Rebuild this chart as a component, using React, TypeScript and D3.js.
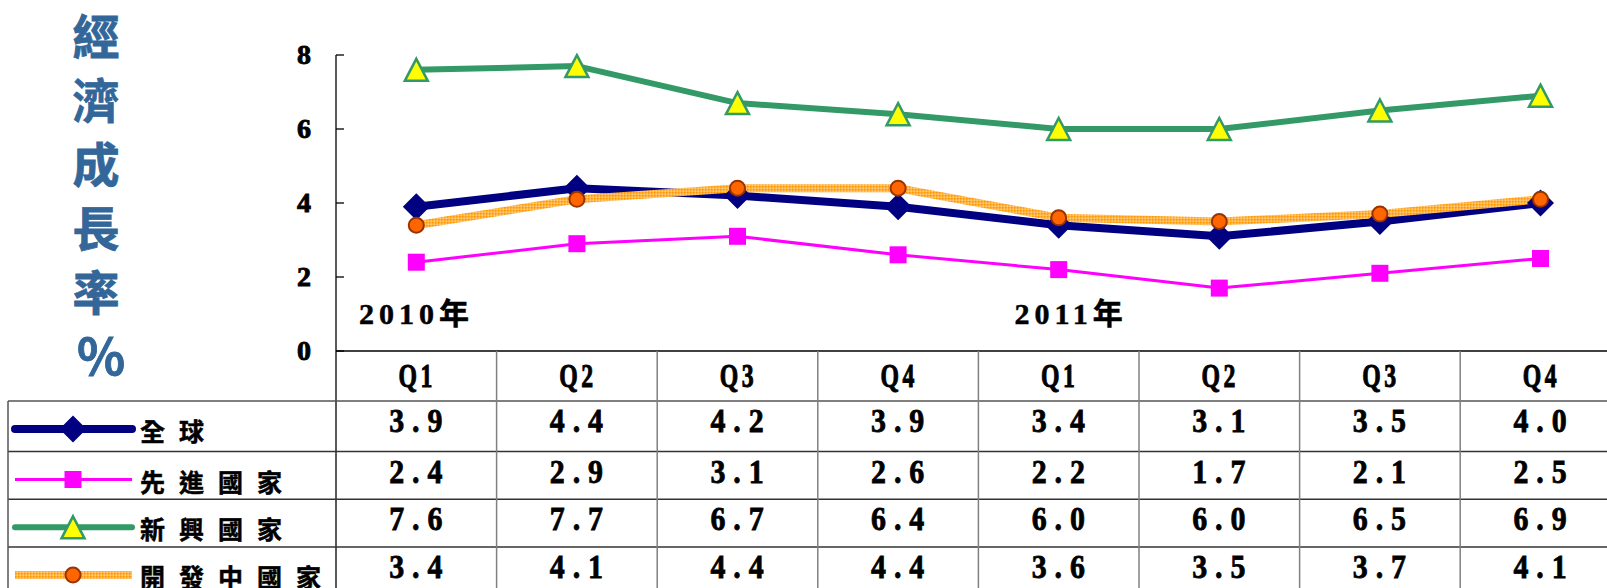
import React from 'react'
import * as d3 from 'd3'

// quarters shown on the x axis / table header
const quarters = ['Q1', 'Q2', 'Q3', 'Q4', 'Q1', 'Q2', 'Q3', 'Q4']
const yearLabels = [
  { label: '2010年', index: 0 },
  { label: '2011年', index: 4 },
]
const yTicks = [0, 2, 4, 6, 8]
const yTitle = ['經', '濟', '成', '長', '率', '%']

// series values (%)
const globalVals = [3.9, 4.4, 4.2, 3.9, 3.4, 3.1, 3.5, 4.0]
const advancedVals = [2.4, 2.9, 3.1, 2.6, 2.2, 1.7, 2.1, 2.5]
const emergingVals = [7.6, 7.7, 6.7, 6.4, 6.0, 6.0, 6.5, 6.9]
const developingVals = [3.4, 4.1, 4.4, 4.4, 3.6, 3.5, 3.7, 4.1]

const seriesNames = ['全球', '先進國家', '新興國家', '開發中國家']

type Series = {
  name: string
  values: number[]
  stroke: string
  width: number
  marker: 'diamond' | 'square' | 'triangle' | 'circle'
  cap: 'round' | 'butt'
}

const series: Series[] = [
  { name: seriesNames[0], values: globalVals, stroke: '#000080', width: 8, marker: 'diamond', cap: 'round' },
  { name: seriesNames[1], values: advancedVals, stroke: '#FF00FF', width: 3, marker: 'square', cap: 'butt' },
  { name: seriesNames[2], values: emergingVals, stroke: '#339966', width: 6, marker: 'triangle', cap: 'round' },
  { name: seriesNames[3], values: developingVals, stroke: 'url(#orangeDots)', width: 8, marker: 'circle', cap: 'butt' },
]

const W = 1607
const H = 588
const axisX = 336
const colW = 160.6
const rowTops = [401, 451.5, 499.3, 547]

const Marker: React.FC<{ type: Series['marker']; x: number; y: number }> = ({ type, x, y }) => {
  switch (type) {
    case 'diamond':
      return <path d={`M${x},${y - 13.5}L${x + 13.5},${y}L${x},${y + 13.5}L${x - 13.5},${y}Z`} fill="#000080" />
    case 'square':
      return <rect x={x - 8.5} y={y - 8.5} width={17} height={17} fill="#FF00FF" />
    case 'triangle':
      return (
        <path
          d={`M${x},${y - 11}L${x + 11.5},${y + 11}L${x - 11.5},${y + 11}Z`}
          fill="#FFFF00"
          stroke="#339966"
          strokeWidth={2.5}
          strokeLinejoin="miter"
        />
      )
    case 'circle':
      return <circle cx={x} cy={y} r={7.5} fill="#FF6600" stroke="#993300" strokeWidth={2} />
  }
}

export default function App() {
  const xScale = d3
    .scaleBand<number>()
    .domain(d3.range(quarters.length))
    .range([axisX, axisX + colW * quarters.length])
    .paddingInner(0)
    .paddingOuter(0)

  const cx = (i: number) => (xScale(i) as number) + xScale.bandwidth() / 2

  const yScale = d3.scaleLinear().domain([0, 8]).range([351, 55])

  const line = d3
    .line<number>()
    .x((_, i) => cx(i))
    .y((d) => yScale(d))

  const serifBold = { fontFamily: '"Liberation Serif", "Noto Sans CJK TC", serif', fontWeight: 700 }
  const cjkBold = { fontFamily: '"Noto Sans CJK TC", sans-serif', fontWeight: 700 }

  return (
    <svg
      width={W}
      height={H}
      style={{ position: 'absolute', left: 0, top: 0, background: '#fff' }}
    >
      <defs>
        <pattern id="orangeDots" patternUnits="userSpaceOnUse" width={3} height={3}>
          <rect width={3} height={3} fill="#FFB23F" />
          <rect width={1.5} height={1.5} fill="#FF9900" />
          <rect x={1.5} y={1.5} width={1.5} height={1.5} fill="#FFCC80" />
        </pattern>
      </defs>
      <rect width={W} height={H} fill="#fff" />

      {/* y title */}
      {yTitle.map((ch, i) => (
        <text
          key={i}
          x={ch === '%' ? 101 : 96}
          y={33 + i * 64}
          dominantBaseline="central"
          textAnchor="middle"
          fill="#336699"
          stroke="#336699"
          strokeWidth={0.8}
          style={{ ...cjkBold, fontSize: ch === '%' ? 50 : 47 }}
        >
          {ch}
        </text>
      ))}

      {/* y axis */}
      <line x1={axisX} x2={axisX} y1={yScale(8)} y2={H} stroke="#000" strokeWidth={1.3} />
      {yTicks.map((t) => (
        <g key={t}>
          <line x1={axisX} x2={axisX + 8} y1={yScale(t)} y2={yScale(t)} stroke="#000" strokeWidth={1.3} />
          <text
            x={311}
            y={yScale(t) + 9}
            textAnchor="end"
            stroke="#000"
            strokeWidth={0.9}
            style={{ ...serifBold, fontSize: 28 }}
          >
            {t}
          </text>
        </g>
      ))}

      {/* year labels */}
      {yearLabels.map((yl) => (
        <text
          key={yl.label}
          x={(xScale(yl.index) as number) + (yl.index === 0 ? 23 : 36)}
          y={324}
          letterSpacing={5}
          stroke="#000"
          strokeWidth={0.5}
          style={{ ...serifBold, fontSize: 30 }}
        >
          {yl.label}
        </text>
      ))}

      {/* table grid */}
      <line x1={axisX} x2={W} y1={yScale(0)} y2={yScale(0)} stroke="#000" strokeWidth={1.5} />
      {rowTops.map((t, i) => (
        <line key={i} x1={8} x2={W} y1={t} y2={t} stroke={i === 0 ? '#555' : '#333'} strokeWidth={1.5} />
      ))}
      <line x1={8} x2={8} y1={rowTops[0]} y2={H} stroke="#555" strokeWidth={1.5} />
      {d3.range(1, quarters.length).map((i) => (
        <line
          key={i}
          x1={xScale(i) as number}
          x2={xScale(i) as number}
          y1={yScale(0)}
          y2={H}
          stroke="#808080"
          strokeWidth={1.5}
        />
      ))}

      {/* header */}
      {quarters.map((q, i) => (
        <text
          key={i}
          transform={`translate(${cx(i) + 1},387) scale(0.7,1)`}
          textAnchor="middle"
          letterSpacing={5}
          stroke="#000"
          strokeWidth={1}
          style={{ ...serifBold, fontSize: 34 }}
        >
          {q}
        </text>
      ))}

      {/* lines */}
      {series.map((s) => (
        <path
          key={s.name}
          d={line(s.values) as string}
          fill="none"
          stroke={s.stroke}
          strokeWidth={s.width}
          strokeLinejoin="round"
          strokeLinecap={s.cap}
        />
      ))}
      {series.map((s) => (
        <g key={s.name + 'm'}>
          {s.values.map((v, i) => (
            <Marker key={i} type={s.marker} x={cx(i)} y={yScale(v)} />
          ))}
        </g>
      ))}

      {/* legend rows + values */}
      {series.map((s, r) => {
        const top = rowTops[r]
        const ly = top + 28
        return (
          <g key={s.name + 'row'}>
            <line
              x1={15}
              x2={132}
              y1={ly}
              y2={ly}
              stroke={s.stroke}
              strokeWidth={s.width}
              strokeLinecap={s.cap}
            />
            <Marker type={s.marker} x={73} y={ly} />
            <text
              x={140}
              y={top + 40}
              letterSpacing={14}
              stroke="#000"
              strokeWidth={0.5}
              style={{ ...cjkBold, fontSize: 25 }}
            >
              {s.name}
            </text>
            {s.values.map((v, i) => (
              <text
                key={i}
                transform={`translate(${cx(i) + 3.5},${top + 31}) scale(0.88,1)`}
                textAnchor="middle"
                letterSpacing={9}
                stroke="#000"
                strokeWidth={0.8}
                style={{ ...serifBold, fontSize: 34 }}
              >
                {v.toFixed(1)}
              </text>
            ))}
          </g>
        )
      })}
    </svg>
  )
}
